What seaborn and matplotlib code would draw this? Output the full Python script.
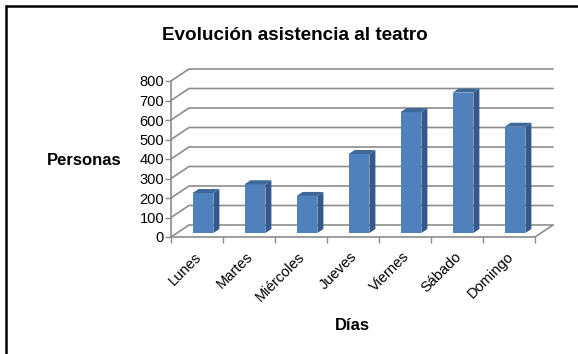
import matplotlib
matplotlib.use("Agg")
import matplotlib.pyplot as plt
from matplotlib.patches import Polygon
from matplotlib.lines import Line2D
from matplotlib.transforms import ScaledTranslation
import pandas as pd
import seaborn as sns

# Data
dias = ["Lunes", "Martes", "Miércoles", "Jueves", "Viernes", "Sábado", "Domingo"]
personas = [205, 250, 190, 405, 620, 720, 545]
y_ticks = [0, 100, 200, 300, 400, 500, 600, 700, 800]
titulo = "Evolución asistencia al teatro"
etiqueta_x = "Días"
etiqueta_y = "Personas"

# Colours
FRONT = "#4F81BD"
SIDE = "#34598A"
TOP = "#3D6899"
GRID = "#8C8C8C"

sns.set_theme(style="white")
plt.rcParams["font.family"] = ["Liberation Sans", "DejaVu Sans"]
plt.rcParams["text.color"] = "black"
plt.rcParams["xtick.labelcolor"] = "black"
plt.rcParams["ytick.labelcolor"] = "black"

DPI = 100
W, H = 578, 354
fig = plt.figure(figsize=(W / DPI, H / DPI), dpi=DPI)
ax = fig.add_axes([171 / W, 117 / H, 364 / W, 156 / H])

df = pd.DataFrame({"dia": dias, "personas": personas})
sns.barplot(data=df, x="dia", y="personas", color=FRONT, saturation=1,
            width=0.4, ax=ax, zorder=3, linewidth=0)

ax.set_xlim(-0.5, len(dias) - 0.5)
ax.set_ylim(y_ticks[0], y_ticks[-1])

# pixel -> data conversion for the oblique depth
bbox = ax.get_position()
ax_w_px = bbox.width * W
ax_h_px = bbox.height * H
ux = (len(dias)) / ax_w_px
uy = (y_ticks[-1] - y_ticks[0]) / ax_h_px

depth_px = (18, 12)          # full floor depth
Dx, Dy = depth_px[0] * ux, depth_px[1] * uy

# back wall gridlines with the left wall diagonals
x0, x1 = -0.5, len(dias) - 0.5
for v in y_ticks:
    ax.add_line(Line2D([x0, x0 + Dx, x1 + Dx], [v, v + Dy, v + Dy],
                       color=GRID, lw=1.2, clip_on=False, zorder=1))
# right edge of the floor
ax.add_line(Line2D([x1, x1 + Dx], [0, Dy], color=GRID, lw=1.2,
                   clip_on=False, zorder=1))

# bars sit in the middle third of the depth
shift = ScaledTranslation(6 / DPI, 4 / DPI, fig.dpi_scale_trans)
bdx, bdy = 6 * ux, 4 * uy
bar_tr = ax.transData + shift
for p in list(ax.patches):
    p.set_transform(bar_tr)
    p.set_clip_on(False)
    x, w, h = p.get_x(), p.get_width(), p.get_height()
    side = Polygon([(x + w, 0), (x + w, h), (x + w + bdx, h + bdy),
                    (x + w + bdx, bdy)], closed=True, facecolor=SIDE,
                   edgecolor="none", transform=bar_tr, clip_on=False, zorder=3)
    top = Polygon([(x, h), (x + w, h), (x + w + bdx, h + bdy),
                   (x + bdx, h + bdy)], closed=True, facecolor=TOP,
                  edgecolor="none", transform=bar_tr, clip_on=False, zorder=3)
    ax.add_patch(side)
    ax.add_patch(top)

# axes styling
for s in ["top", "right"]:
    ax.spines[s].set_visible(False)
for s in ["left", "bottom"]:
    ax.spines[s].set_color(GRID)
    ax.spines[s].set_linewidth(1.2)

ax.set_yticks(y_ticks)
ax.set_yticklabels([str(v) for v in y_ticks], fontsize=10.5)
ax.tick_params(axis="y", which="major", left=True, length=4, width=1,
               color=GRID, pad=1)

ax.set_xticks(range(len(dias)))
ax.set_xticklabels(dias, rotation=45, ha="right", rotation_mode="anchor",
                   fontsize=10.5)
ax.set_xticks([i - 0.5 for i in range(len(dias) + 1)], minor=True)
ax.tick_params(axis="x", which="major", bottom=False, pad=3)
ax.tick_params(axis="x", which="minor", bottom=True, length=4, width=1,
               color=GRID)
label_shift = ScaledTranslation(-3 / DPI, 0, fig.dpi_scale_trans)
for lbl in ax.get_xticklabels():
    lbl.set_transform(lbl.get_transform() + label_shift)
ax.set_xlabel("")
ax.set_ylabel("")
ax.grid(False)

# titles
fig.text(295 / W, 1 - 35 / H, titulo, ha="center", va="center",
         fontsize=13.6, fontweight="bold")
fig.text(84 / W, 1 - 160 / H, etiqueta_y, ha="center", va="center",
         fontsize=12, fontweight="bold")
fig.text(352 / W, 1 - 325 / H, etiqueta_x, ha="center", va="center",
         fontsize=12, fontweight="bold")

# chart frame (top and left edges)
fig.add_artist(Line2D([6 / W, 1], [1 - 6 / H, 1 - 6 / H], color="black",
                      lw=1.8, transform=fig.transFigure))
fig.add_artist(Line2D([6 / W, 6 / W], [0, 1 - 6 / H], color="black",
                      lw=1.8, transform=fig.transFigure))

fig.savefig("out.png", dpi=DPI)
